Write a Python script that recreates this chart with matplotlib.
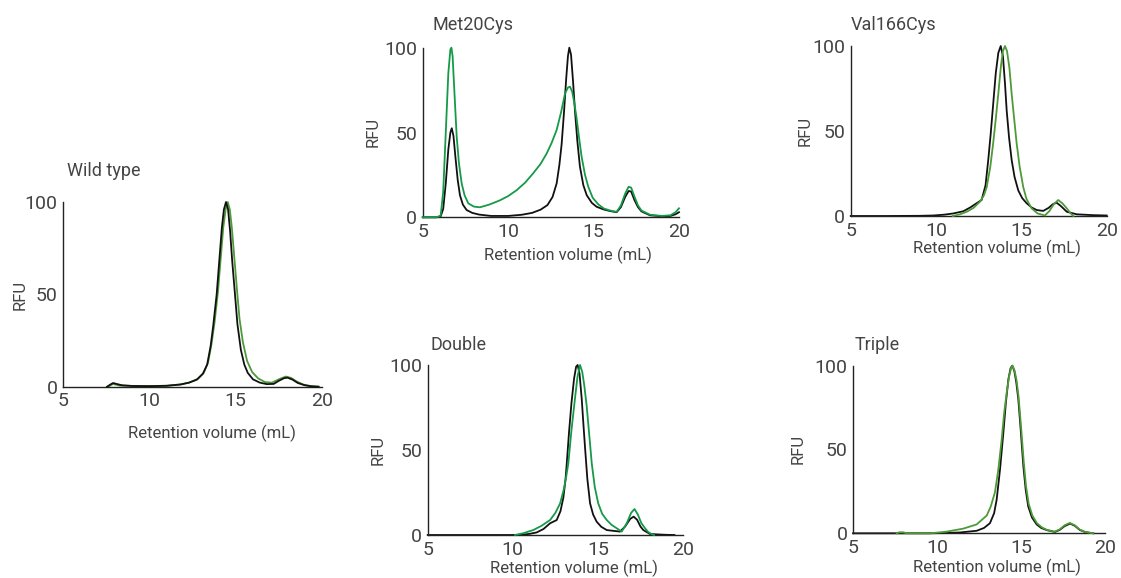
import matplotlib
matplotlib.use("Agg")
import matplotlib.pyplot as plt

plt.rcParams['font.family'] = ['Roboto', 'DejaVu Sans']
plt.rcParams['font.weight'] = 'normal'

TXT = '#444444'
BLACK = '#111111'
GREEN_BRIGHT = '#159a48'
GREEN_OLIVE = '#4e9a38'

panel_titles = ["Wild type", "Met20Cys", "Val166Cys", "Double", "Triple"]
x_ticks = [5, 10, 15, 20]
y_ticks = [0, 50, 100]
x_label = "Retention volume (mL)"
y_label = "RFU"

# ---- Wild type ----
wt_black_x = [7.55, 7.75, 7.9, 8.1, 8.4, 9.0, 10.0, 11.0, 11.8, 12.3, 12.75, 13.1, 13.35, 13.55, 13.7, 13.9,
              14.05, 14.2, 14.32, 14.44, 14.56, 14.68, 14.8, 14.96, 15.1, 15.3, 15.5, 15.7, 16.0, 16.4, 16.8,
              17.2, 17.5, 17.8, 18.0, 18.3, 18.6, 19.0, 19.4, 19.8]
wt_black_y = [0, 1.2, 2.0, 1.5, 0.8, 0.4, 0.3, 0.5, 1.2, 2.2, 3.8, 7, 12, 22, 33, 50,
              68, 86, 96, 100, 96, 84, 68, 50, 34, 20, 12, 7.5, 4, 2.2, 1.4,
              1.5, 3.2, 4.6, 4.9, 3.8, 2, 0.8, 0.2, 0]
wt_green_x = [7.6, 7.9, 8.3, 9.5, 11, 11.8, 12.3, 12.8, 13.15, 13.4, 13.6, 13.78, 13.98, 14.12, 14.28, 14.42,
              14.54, 14.66, 14.78, 14.92, 15.08, 15.22, 15.42, 15.66, 15.95, 16.3, 16.7, 17.1, 17.5, 17.9, 18.2,
              18.5, 18.9, 19.3, 19.8]
wt_green_y = [0, 1.5, 0.6, 0.3, 0.5, 1.2, 2.2, 4.2, 7.5, 13, 23, 35, 52, 68, 86, 96,
              100, 96, 86, 70, 52, 37, 24, 14, 8, 4.5, 2.5, 2.2, 4, 5.5, 4.8,
              3, 1.2, 0.4, 0]

# ---- Met20Cys ----
met_black_x = [5, 5.8, 6.05, 6.2, 6.35, 6.5, 6.62, 6.7, 6.8, 6.92, 7.05, 7.18, 7.35, 7.57, 7.9, 8.3, 9.0, 10.0,
               10.8, 11.4, 11.9, 12.3, 12.6, 12.84, 13.0, 13.13, 13.27, 13.4, 13.5, 13.58, 13.68, 13.8, 13.91,
               14.05, 14.2, 14.4, 14.6, 14.9, 15.18, 15.6, 15.96, 16.35, 16.6, 16.85, 17.05, 17.2, 17.4, 17.6,
               17.8, 18.3, 19.0, 19.5, 19.8, 20.0]
met_black_y = [0, 0, 0.5, 5, 20, 40, 50, 52.5, 48, 35, 22, 13, 7.5, 4.3, 2.6, 1.6, 0.8, 0.8,
               1.5, 2.6, 4.5, 7.2, 12, 20, 31, 43, 62, 82, 95, 100, 96, 80, 63,
               45, 30, 19, 13, 8.5, 6.2, 4.6, 3.7, 3.0, 6, 12, 15.5, 15.2, 10, 6,
               3.5, 1.2, 0.6, 0.8, 1.8, 3.0]
met_green_x = [5, 5.8, 6.05, 6.2, 6.35, 6.5, 6.62, 6.68, 6.75, 6.85, 6.99, 7.12, 7.28, 7.45, 7.67, 8.0, 8.35,
               8.9, 9.52, 10.0, 10.5, 11.0, 11.47, 11.9, 12.26, 12.55, 12.84, 13.1, 13.33, 13.5, 13.62, 13.75,
               13.88, 14.0, 14.15, 14.3, 14.5, 14.69, 14.95, 15.28, 15.6, 15.96, 16.35, 16.6, 16.85, 17.05,
               17.2, 17.4, 17.6, 17.8, 18.3, 19.0, 19.5, 19.8, 20.0]
met_green_y = [0, 0, 1, 15, 50, 85, 99, 100, 95, 75, 47.5, 32, 20, 13, 8.2, 6.3, 5.9,
               7.5, 10, 12.5, 16, 20.5, 26, 31.5, 37.7, 44, 51.5, 62, 73, 76.5, 77, 74,
               67, 59, 47, 35.7, 25, 18, 11.5, 7.6, 5.2, 4, 3.2, 7, 14, 18,
               17.5, 12, 7, 4, 1.5, 0.8, 1.2, 3, 5.3]

# ---- Val166Cys ----
val_black_x = [5, 7, 9, 9.84, 10.5, 11.01, 11.6, 12.0, 12.3, 12.67, 12.9, 13.06, 13.2, 13.35, 13.5, 13.65,
               13.79, 13.92, 14.04, 14.14, 14.28, 14.43, 14.6, 14.82, 15.05, 15.31, 15.6, 15.9, 16.28, 16.6,
               16.85, 17.07, 17.3, 17.66, 18.24, 19.2, 20]
val_black_y = [0, 0, 0.1, 0.3, 0.8, 1.5, 2.8, 5, 7, 9.4, 18, 33, 48, 66, 84, 96,
               100, 94, 78, 62, 46, 33, 23, 15, 10.5, 7.5, 5, 3.5, 3.0, 4.8,
               7, 7.8, 6, 2.5, 1, 0.5, 0.3]
val_green_x = [10.98, 11.4, 11.8, 12.2, 12.57, 12.8, 12.97, 13.18, 13.35, 13.5, 13.65, 13.8, 13.92, 14.04,
               14.16, 14.3, 14.43, 14.58, 14.72, 14.9, 15.11, 15.3, 15.6, 15.95, 16.38, 16.65, 16.9, 17.16,
               17.4, 17.66, 17.85, 18.04]
val_green_y = [0, 1, 2.5, 4.8, 8.4, 12, 17, 29, 43, 57, 72, 88, 97, 100,
               97, 87, 72, 57, 43, 29, 17, 10, 4.5, 1.5, 0.3, 3, 7, 9.4,
               7.5, 4.5, 2, 0]

# ---- Double ----
dbl_black_x = [5, 10.0, 10.62, 11.0, 11.4, 11.8, 12.19, 12.58, 12.8, 12.97, 13.1, 13.17, 13.3, 13.45, 13.6,
               13.72, 13.81, 13.92, 14.05, 14.15, 14.24, 14.38, 14.54, 14.72, 14.93, 15.2, 15.52, 16.3, 16.6,
               16.9, 17.1, 17.3, 17.5, 17.67, 18.06, 18.6, 19.04, 19.5]
dbl_black_y = [0, 0, 0.2, 0.7, 1.5, 3.5, 6.9, 8.8, 14, 22, 33, 42, 60, 78, 92,
               99, 100, 95, 80, 65, 52, 33, 18.6, 12, 7.8, 4.8, 2.9, 2.0, 5,
               9.5, 10.8, 9, 5, 2.9, 0.6, 0.3, 0.1, 0]
dbl_green_x = [10.13, 10.6, 11.2, 11.7, 12.19, 12.5, 12.78, 13.0, 13.15, 13.26, 13.45, 13.65, 13.8, 13.95,
               14.08, 14.2, 14.34, 14.5, 14.64, 14.82, 15.02, 15.25, 15.52, 15.8, 16.1, 16.4, 16.7, 16.95,
               17.15, 17.35, 17.55, 17.77, 17.95, 18.16, 18.3]
dbl_green_y = [0, 1, 2.9, 5.5, 8.8, 13, 18.6, 27, 35, 42, 62, 80, 93, 100,
               96, 88, 76, 58, 42, 28, 18.6, 12.5, 8.8, 6, 4, 2, 7, 13,
               15.3, 12, 7, 4, 1.8, 0.5, 0]

# ---- Triple ----
tri_black_x = [5, 9.5, 10.5, 11.37, 12.36, 12.8, 13.15, 13.4, 13.55, 13.75, 13.95, 14.1, 14.25, 14.38, 14.48,
               14.6, 14.72, 14.84, 14.98, 15.14, 15.28, 15.43, 15.65, 15.93, 16.2, 16.53, 17.02, 17.3, 17.6,
               17.92, 18.2, 18.5, 18.8, 19.1, 19.3]
tri_black_y = [0, 0, 0.2, 0.5, 1.5, 3.2, 6, 12, 20, 38, 60, 78, 92, 98.5, 100,
               97, 90, 80, 62, 40, 26, 16, 9.5, 5.3, 3.2, 1.9, 0.8, 2, 4.3,
               5.8, 4.5, 2, 0.8, 0.3, 0]
tri_green_x = [7.6, 7.75, 8.0, 8.2, 9.58, 10.58, 11.57, 12.36, 12.96, 13.2, 13.45, 13.65, 13.85, 14.0, 14.15,
               14.3, 14.42, 14.5, 14.62, 14.74, 14.86, 15.0, 15.16, 15.3, 15.46, 15.68, 15.95, 16.25, 16.55,
               17.0, 17.3, 17.6, 17.9, 18.2, 18.5, 18.8, 19.1, 19.3]
tri_green_y = [0, 0.6, 0.6, 0, 0, 1, 2.8, 5.3, 10.6, 16, 24.5, 38, 56, 72, 84,
               94, 99, 100, 97, 91, 81, 64, 43, 28, 17.5, 10.5, 6, 3.5, 2,
               1, 2.3, 4.8, 6.2, 4.8, 2.2, 0.9, 0.3, 0]

W, H = 1121, 578
fig = plt.figure(figsize=(W / 100, H / 100), dpi=100)

def px_rect(left, right, top, bottom):
    return [left / W, 1 - bottom / H, (right - left) / W, (bottom - top) / H]

panels = [
    dict(rect=px_rect(63, 322, 202, 386.7), black=(wt_black_x, wt_black_y), green=(wt_green_x, wt_green_y),
         gc=GREEN_OLIVE, black_top=True, title=(67, 171), ylab=(20, 295), xlab=(212, 433)),
    dict(rect=px_rect(422.7, 679, 47.7, 217.3), black=(met_black_x, met_black_y), green=(met_green_x, met_green_y),
         gc=GREEN_BRIGHT, black_top=False, title=(432, 25), ylab=(373, 132), xlab=(568, 255)),
    dict(rect=px_rect(850.7, 1106.7, 46, 216), black=(val_black_x, val_black_y), green=(val_green_x, val_green_y),
         gc=GREEN_OLIVE, black_top=False, title=(851, 25), ylab=(805, 131), xlab=(997, 248)),
    dict(rect=px_rect(427.7, 683, 365, 535), black=(dbl_black_x, dbl_black_y), green=(dbl_green_x, dbl_green_y),
         gc=GREEN_BRIGHT, black_top=False, title=(430, 345), ylab=(378, 450), xlab=(574, 568)),
    dict(rect=px_rect(853, 1105, 365.7, 533.3), black=(tri_black_x, tri_black_y), green=(tri_green_x, tri_green_y),
         gc=GREEN_OLIVE, black_top=False, title=(855, 345), ylab=(798, 449), xlab=(997, 567)),
]

for name, p in zip(panel_titles, panels):
    ax = fig.add_axes(p['rect'])
    zb = 3 if p['black_top'] else 2
    zg = 2 if p['black_top'] else 3
    ax.plot(*p['black'], color=BLACK, lw=1.3, zorder=zb, clip_on=False, solid_joinstyle='round')
    ax.plot(*p['green'], color=p['gc'], lw=1.3, zorder=zg, clip_on=False, solid_joinstyle='round')
    ax.set_xlim(5, 20)
    ax.set_ylim(0, 100)
    ax.set_xticks(x_ticks)
    ax.set_yticks(y_ticks)
    for s in ['top', 'right']:
        ax.spines[s].set_visible(False)
    for s in ['left', 'bottom']:
        ax.spines[s].set_color('#222222')
        ax.spines[s].set_linewidth(1.0)
    ax.tick_params(length=0, labelsize=14, colors=TXT, pad=4)
    ax.patch.set_alpha(0)
    fig.text(p['title'][0] / W, 1 - p['title'][1] / H, name, ha='left', va='center',
             fontsize=13, color=TXT)
    fig.text(p['ylab'][0] / W, 1 - p['ylab'][1] / H, y_label, ha='center', va='center',
             rotation=90, fontsize=12, color=TXT)
    fig.text(p['xlab'][0] / W, 1 - p['xlab'][1] / H, x_label, ha='center', va='center',
             fontsize=12, color=TXT)

fig.savefig("out.png", dpi=100)
